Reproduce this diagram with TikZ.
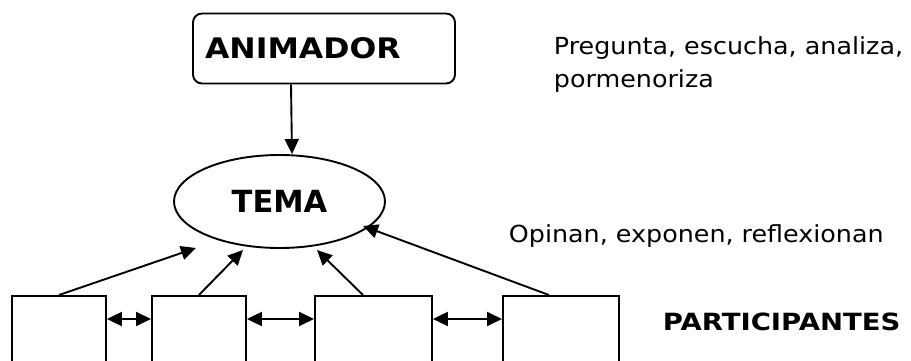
\documentclass[tikz,border=0pt]{standalone}
\usepackage{fontspec}
\setmainfont{DejaVu Sans}
\newfontfamily\notefont[FakeStretch=1.08]{DejaVu Sans}
\newfontfamily\titlefont[FakeStretch=1.115]{DejaVu Sans Bold}
\newfontfamily\labelfont[FakeStretch=1.16]{DejaVu Sans Bold}
\usetikzlibrary{arrows.meta,shapes.geometric}
\begin{document}
\begin{tikzpicture}[x=1pt,y=-1pt,
  line width=1.9pt,
  tip/.style={-{Triangle[length=15pt,width=14pt]}},
  dbl/.style={{Triangle[length=15pt,width=14pt]}-{Triangle[length=15pt,width=14pt]}},
  roundbox/.style={draw,rounded corners=9pt,minimum width=262pt,minimum height=70pt,
    text width=238pt,align=left,inner xsep=12pt,inner ysep=0pt,
    font=\titlefont\fontsize{28.3}{32}\selectfont},
  topic/.style={draw,ellipse,minimum width=211pt,minimum height=93pt,inner sep=0pt,
    font=\fontsize{30.5}{34}\selectfont\bfseries},
  member/.style={draw,rectangle,minimum height=120pt,inner sep=0pt,anchor=north west},
  note/.style={inner sep=0pt,font=\notefont\fontsize{23.5}{33}\selectfont},
]
\useasboundingbox (0,0) rectangle (911,361);
\clip (0,0) rectangle (911,361);

% moderator and topic
\node[roundbox] (anim) at (324,48.5) {ANIMADOR};
\node[topic] (tema) at (279.5,201.5) {TEMA};

% participant boxes (their lower edges run off the page)
\node[member,minimum width=94pt] (b1) at (11,295) {};
\node[member,minimum width=94pt] (b2) at (151,295) {};
\node[member,minimum width=117pt] (b3) at (314,295) {};
\node[member,minimum width=116pt] (b4) at (502,295) {};

% free ends of the arrows pointing at the topic
\coordinate (t1) at (196,248);
\coordinate (t2) at (243,250);
\coordinate (t3) at (317,250);
\coordinate (t4) at (363,226);
\coordinate (row) at (0,319);

% animator to topic
\draw[tip] (anim.south -| 291,0) -- (tema.north -| 292,0);

% participants to topic
\draw[tip] (b1.north) -- (t1);
\draw[tip] (b2.north) -- (t2);
\draw[tip] ([xshift=-10.5pt]b3.north) -- (t3);
\draw[tip] ([xshift=-12pt]b4.north) -- (t4);

% exchanges between neighbouring participants
\draw[dbl] (b1.east |- row) -- (b2.west |- row);
\draw[dbl] (b2.east |- row) -- (b3.west |- row);
\draw[dbl] (b3.east |- row) -- (b4.west |- row);

% annotations
\node[note,anchor=base west,align=left] (roles) at (553,88) {Pregunta, escucha, analiza,\\pormenoriza};
\node[note,anchor=base west] (acts) at (508,242) {Opinan, exponen, reflexionan};
\node[note,anchor=base west,font=\labelfont\fontsize{23.7}{26}\selectfont] (part) at (662,330) {PARTICIPANTES};
\end{tikzpicture}
\end{document}
